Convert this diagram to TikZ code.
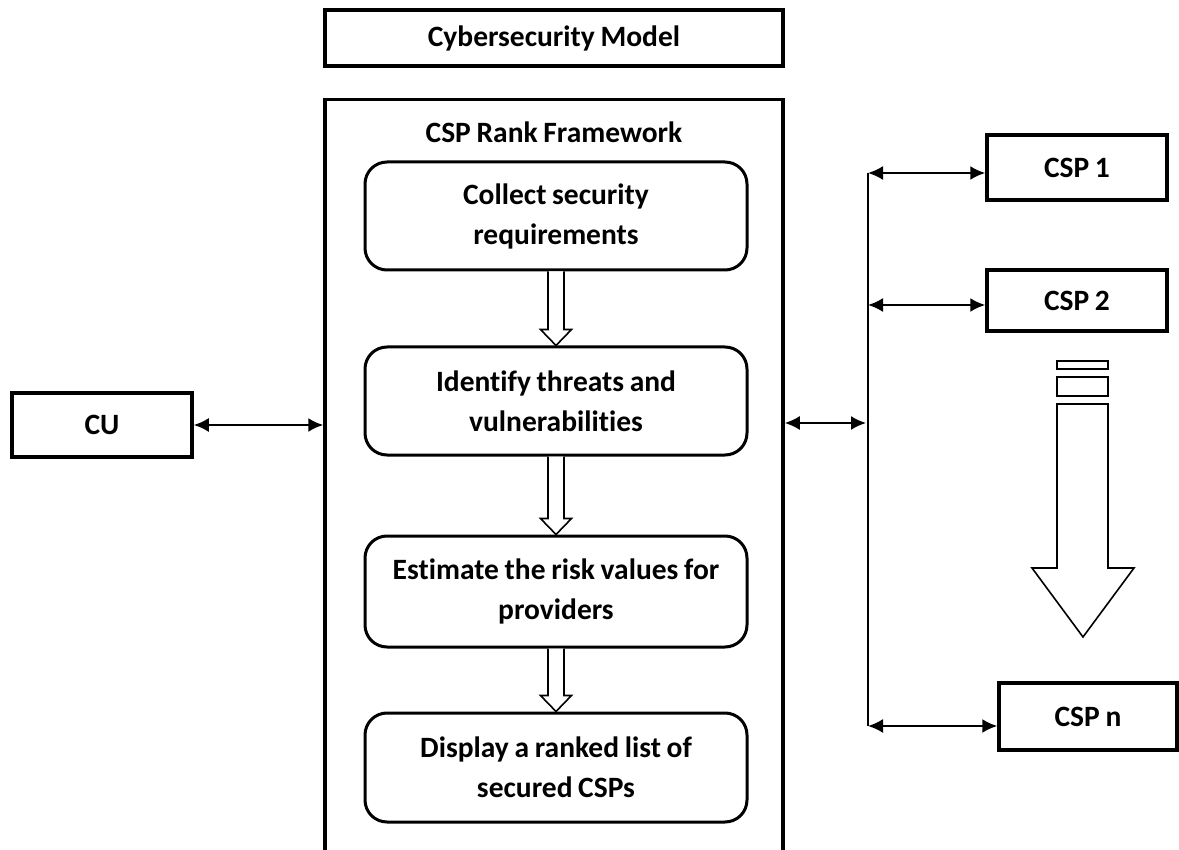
\documentclass[tikz,border=0pt]{standalone}
\usepackage{fontspec}
\setmainfont{Carlito}[Ligatures=NoCommon, WordSpace={0.85,0,0}]
\usetikzlibrary{arrows.meta,calc}
\tikzset{
  every node/.style={font=\fontsize{29.5}{40}\selectfont\bfseries, align=center, inner sep=0pt},
  plainbox/.style={draw, line width=3.5pt, rectangle},
  stepbox/.style={draw, line width=3pt, rounded corners=22pt, minimum width=382pt},
  dbl/.style={{Latex[length=15pt,width=14pt]}-{Latex[length=15pt,width=14pt]}, line width=2pt},
  blk/.style={draw, line width=1.6pt, fill=white, line join=miter},
  bus/.style={line width=1.6pt}
}
\newcommand\blockarr[2]{%
  \draw[blk] let \p1=(#1), \p2=(#2) in
    (\x1-8pt,\y1) -- (\x1-8pt,\y2+16pt) -- (\x1-15.5pt,\y2+16pt) -- (\x1,\y2)
    -- (\x1+15.5pt,\y2+16pt) -- (\x1+8pt,\y2+16pt) -- (\x1+8pt,\y1);}
\begin{document}
\begin{tikzpicture}[x=1pt,y=-1pt]
\useasboundingbox (0,0) rectangle (1179,850);
\clip (0,0) rectangle (1179,850);
% top model box
\node[plainbox, minimum width=458pt, minimum height=56pt] (model) at (554,38) {Cybersecurity Model};
% framework frame (open at bottom)
\node[draw, line width=3.5pt, minimum width=458pt, minimum height=790pt, anchor=north] (frame) at (554,98) {};
\node (ftitle) at (554,132) {CSP Rank Framework};
% steps
\node[stepbox, minimum height=108pt] (b1) at (556,216) {Collect security\\requirements};
\node[stepbox, minimum height=108pt] (b2) at (556,401) {Identify threats and\\vulnerabilities};
\node[stepbox, minimum height=111pt] (b3) at (556,591.5) {Estimate the risk values for\\providers};
\node[stepbox, minimum height=109pt] (b4) at (556,767.5) {Display a ranked list of\\secured CSPs};
\blockarr{b1.south}{b2.north}
\blockarr{b2.south}{b3.north}
\blockarr{b3.south}{b4.north}
% CU
\node[plainbox, minimum width=180pt, minimum height=64pt] (cu) at (102,425) {CU};
\draw[dbl] (cu.east) -- (cu.east -| frame.west);
% right side
\coordinate (pm) at (866,423);
\draw[dbl] (frame.east |- pm) -- (pm);
\coordinate (btop) at (868,173);
\coordinate (bbot) at (868,726);
\draw[bus] (btop) -- (bbot);
\node[plainbox, minimum width=180pt, minimum height=65pt] (csp1) at (1077,167.5) {CSP 1};
\node[plainbox, minimum width=180pt, minimum height=61pt] (csp2) at (1077,300.5) {CSP 2};
\node[plainbox, minimum width=178pt, minimum height=67pt] (cspn) at (1088,716.5) {CSP n};
\coordinate (p2) at (868,305);
\draw[dbl] (btop) -- (btop -| csp1.west);
\draw[dbl] (p2) -- (p2 -| csp2.west);
\draw[dbl] (bbot) -- (bbot -| cspn.west);
% dots: small rectangles and big down arrow
\draw[line width=1.6pt] (1057,361) rectangle (1108,369);
\draw[line width=1.6pt] (1057,377) rectangle (1108,396);
\draw[blk] (1057,404) -- (1057,568) -- (1032,568) -- (1083,637) -- (1134,568) -- (1108,568) -- (1108,404) -- cycle;
\end{tikzpicture}
\end{document}
